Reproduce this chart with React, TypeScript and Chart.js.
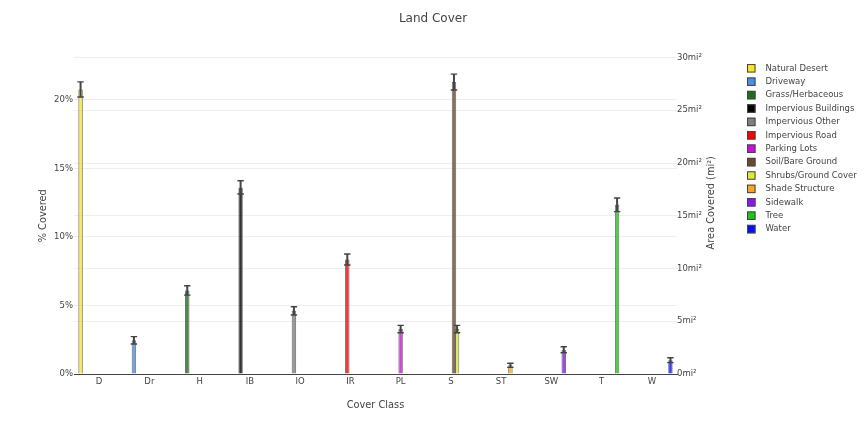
import React, { useEffect, useRef } from 'react';
import { Chart, registerables } from 'chart.js';

Chart.register(...registerables);

// ---------- data ----------
const categories = ['D', 'Dr', 'H', 'IB', 'IO', 'IR', 'PL', 'S', 'ST', 'SW', 'T', 'W'];
const classNames = [
  'Natural Desert', 'Driveway', 'Grass/Herbaceous', 'Impervious Buildings', 'Impervious Other',
  'Impervious Road', 'Parking Lots', 'Soil/Bare Ground', 'Shrubs/Ground Cover', 'Shade Structure',
  'Sidewalk', 'Tree', 'Water',
];
const classCategory = ['D', 'Dr', 'H', 'IB', 'IO', 'IR', 'PL', 'S', 'S', 'ST', 'SW', 'T', 'W'];
const percentCovered = [20.77, 2.46, 6.1, 13.62, 4.61, 8.36, 3.28, 21.31, 3.28, 0.63, 1.77, 12.35, 1.01];
const percentError = [0.55, 0.27, 0.34, 0.48, 0.3, 0.4, 0.27, 0.58, 0.27, 0.15, 0.22, 0.5, 0.18];
const classColors = [
  '#f7e628', '#4a8fe0', '#1b6e1b', '#000000', '#808080', '#ff0000', '#c810d8',
  '#6b4b2e', '#dce83c', '#f5a623', '#8b16f0', '#22c41a', '#0010ff',
];
const percentSuffix = '%';
const areaSuffix = 'mi²';

const FONT = 'DejaVu Sans';
const TEXT = '#444';

function hexA(hex: string, a: number) {
  const n = parseInt(hex.slice(1), 16);
  return `rgba(${(n >> 16) & 255},${(n >> 8) & 255},${n & 255},${a})`;
}

const errorBarPlugin = {
  id: 'errorBars',
  afterDatasetsDraw(chart: any) {
    const ctx = chart.ctx;
    const yScale = chart.scales.y;
    ctx.save();
    ctx.strokeStyle = TEXT;
    classNames.forEach((_, i) => {
      const meta = chart.getDatasetMeta(i);
      const j = categories.indexOf(classCategory[i]);
      const el = meta.data[j];
      if (!el) return;
      const x = el.x;
      const yTop = yScale.getPixelForValue(percentCovered[i] + percentError[i]);
      const yBot = yScale.getPixelForValue(percentCovered[i] - percentError[i]);
      ctx.lineWidth = 2;
      ctx.beginPath();
      ctx.moveTo(x, yTop);
      ctx.lineTo(x, yBot);
      ctx.stroke();
      ctx.lineWidth = 1.4;
      ctx.beginPath();
      ctx.moveTo(x - 3.2, yTop);
      ctx.lineTo(x + 3.2, yTop);
      ctx.moveTo(x - 3.2, yBot);
      ctx.lineTo(x + 3.2, yBot);
      ctx.stroke();
    });
    ctx.restore();
  },
};

const overlayPlugin = {
  id: 'overlay',
  afterDraw(chart: any) {
    const ctx = chart.ctx;
    const area = chart.chartArea;
    ctx.save();
    ctx.fillStyle = TEXT;
    // chart title
    ctx.font = `12px "${FONT}"`;
    ctx.textAlign = 'center';
    ctx.textBaseline = 'middle';
    ctx.fillText('Land Cover', chart.width / 2, 18.5);
    // right axis title (rotated upward)
    ctx.save();
    ctx.translate(area.right + 34, (area.top + area.bottom) / 2 - 13);
    ctx.rotate(-Math.PI / 2);
    ctx.font = `9.8px "${FONT}"`;
    ctx.fillText('Area Covered (' + areaSuffix + ')', 0, 0);
    ctx.restore();
    // legend
    const lx = area.right + 70;
    const ly = 68.3;
    const step = 13.4;
    ctx.font = `8.5px "${FONT}"`;
    ctx.textAlign = 'left';
    chart.data.datasets.forEach((ds: any, i: number) => {
      const cy = ly + i * step;
      ctx.fillStyle = classColors[i];
      ctx.fillRect(lx, cy - 4.25, 8.5, 8.5);
      ctx.strokeStyle = TEXT;
      ctx.lineWidth = 1;
      ctx.strokeRect(lx + 0.5, cy - 3.75, 7.5, 7.5);
      ctx.fillStyle = TEXT;
      ctx.fillText(ds.label, lx + 18.5, cy);
    });
    ctx.restore();
  },
};

export default function App() {
  const ref = useRef<HTMLCanvasElement>(null);
  useEffect(() => {
    document.body.style.margin = '0';
    const datasets = classNames.map((name, i) => ({
      label: name,
      data: categories.map((c) => (c === classCategory[i] ? percentCovered[i] : null)),
      backgroundColor: hexA(classColors[i], 0.8),
      borderColor: 'rgba(90,90,90,0.85)',
      borderWidth: 1,
      borderSkipped: 'start',
      categoryPercentage: 0.8,
      barPercentage: 1.45,
      yAxisID: 'y',
    }));
    const chart = new Chart(ref.current as HTMLCanvasElement, {
      type: 'bar',
      data: { labels: categories, datasets },
      options: {
        animation: false,
        responsive: false,
        devicePixelRatio: 1,
        layout: { padding: { top: 57.5, right: 149, bottom: 0, left: 0 } },
        plugins: { legend: { display: false }, title: { display: false }, tooltip: { enabled: false } },
        scales: {
          x: {
            type: 'category',
            grid: { display: false, drawTicks: false },
            border: { display: true, color: TEXT, width: 1 },
            ticks: { font: { family: FONT, size: 8.5 }, color: TEXT, padding: 2.5, maxRotation: 0, autoSkip: false },
            title: {
              display: true, text: 'Cover Class', color: TEXT,
              font: { family: FONT, size: 9.8 }, padding: { top: 0, bottom: 13 },
            },
            afterFit: (s: any) => { s.height = 50; },
          },
          y: {
            position: 'left',
            min: 0,
            max: 23.1,
            grid: { color: '#eeeeee', drawTicks: false },
            border: { display: false },
            ticks: {
              stepSize: 5, includeBounds: false, padding: 1, color: TEXT,
              font: { family: FONT, size: 8.5 },
              callback: (v: any) => v + percentSuffix,
            },
            title: {
              display: true, text: '% Covered', color: TEXT,
              font: { family: FONT, size: 9.8 }, padding: { top: 38, bottom: 0 },
            },
            afterFit: (s: any) => { s.width = 74; },
          },
          y1: {
            position: 'right',
            min: 0,
            max: 30,
            grid: { color: '#eeeeee', drawTicks: false },
            border: { display: false },
            ticks: {
              stepSize: 5, includeBounds: false, padding: 0, color: TEXT,
              font: { family: FONT, size: 8.5 },
              callback: (v: any) => v + areaSuffix,
            },
            afterFit: (s: any) => { s.width = 40; },
          },
        },
      } as any,
      plugins: [errorBarPlugin, overlayPlugin],
    });
    return () => chart.destroy();
  }, []);
  return (
    <div style={{ width: 866, height: 424, background: '#fff' }}>
      <canvas ref={ref} width={866} height={424} />
    </div>
  );
}
